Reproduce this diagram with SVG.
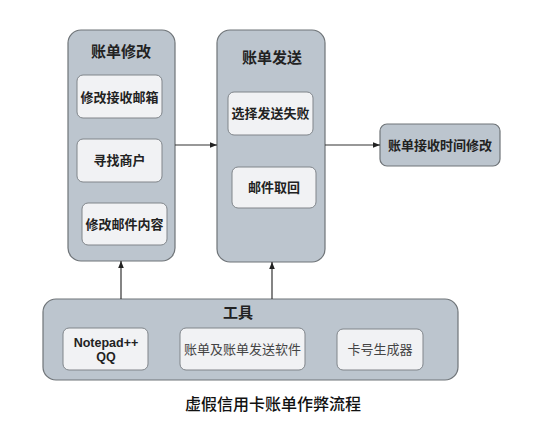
<svg xmlns="http://www.w3.org/2000/svg" width="550" height="427" viewBox="0 0 550 427">
<defs>
<marker id="ah" viewBox="0 0 10 10" refX="10" refY="5" markerWidth="7" markerHeight="7" markerUnits="userSpaceOnUse" orient="auto">
<path d="M0,1 L10,5 L0,9 z" fill="#222"/>
</marker>
<style>
.cont{fill:#bcc5ce;stroke:#6f7478;stroke-width:1.2}
.box{fill:#f1f2f4;stroke:#80858a;stroke-width:1}
.t{font-family:"Liberation Serif","Noto Sans CJK SC",serif;fill:#222;text-anchor:middle;dominant-baseline:central}
.title{font-size:15px;font-weight:bold}
.lbl{font-size:13px;font-weight:bold}
.conn{stroke:#333;stroke-width:1.2;fill:none;marker-end:url(#ah)}
</style>
</defs>
<rect width="550" height="427" fill="#ffffff"/>
<g id="bill-modify">
<rect class="cont" x="68" y="30" width="107" height="231" rx="13"/>
<text class="t title" x="121" y="52">账单修改</text>
</g>
<g id="modify-email">
<rect class="box" x="77" y="75" width="85" height="43" rx="6"/>
<text class="t lbl" x="119.5" y="97">修改接收邮箱</text>
</g>
<g id="find-merchant">
<rect class="box" x="77" y="139" width="85" height="43" rx="6"/>
<text class="t lbl" x="119.5" y="160.5">寻找商户</text>
</g>
<g id="modify-content">
<rect class="box" x="82" y="203" width="85" height="42" rx="6"/>
<text class="t lbl" x="124.5" y="224">修改邮件内容</text>
</g>
<g id="bill-send">
<rect class="cont" x="217" y="30" width="108" height="232" rx="13"/>
<text class="t title" x="272" y="58">账单发送</text>
</g>
<g id="send-fail">
<rect class="box" x="228" y="92" width="85" height="43" rx="6"/>
<text class="t lbl" x="270.5" y="113.5">选择发送失败</text>
</g>
<g id="mail-recall">
<rect class="box" x="232" y="167" width="84" height="41" rx="6"/>
<text class="t lbl" x="274" y="187.5">邮件取回</text>
</g>
<g id="time-modify">
<rect class="cont" x="380" y="124" width="120" height="42" rx="7"/>
<text class="t lbl" x="440" y="145">账单接收时间修改</text>
</g>
<g id="tools">
<rect class="cont" x="43" y="299" width="415" height="81" rx="13"/>
<text class="t title" x="238" y="313">工具</text>
</g>
<g id="notepad">
<rect class="box" x="63" y="328" width="85" height="42" rx="6"/>
<text x="106" y="343" style="font-family:'Liberation Sans',Arial,sans-serif;font-size:12.5px;font-weight:bold;fill:#222;text-anchor:middle;dominant-baseline:central">Notepad++</text>
<text x="106" y="357" style="font-family:'Liberation Sans',Arial,sans-serif;font-size:12.5px;font-weight:bold;fill:#222;text-anchor:middle;dominant-baseline:central">QQ</text>
</g>
<g id="send-software">
<rect class="box" x="180" y="328" width="125" height="42" rx="6"/>
<text class="t lbl" x="242.5" y="349" style="font-weight:normal;fill:#444">账单及账单发送软件</text>
</g>
<g id="card-gen">
<rect class="box" x="337" y="329" width="86" height="41" rx="6"/>
<text class="t lbl" x="380" y="349.5" style="font-weight:normal;fill:#444">卡号生成器</text>
</g>
<g id="connectors">
<line class="conn" x1="175" y1="145" x2="217" y2="145"/>
<line class="conn" x1="325" y1="145" x2="380" y2="145"/>
<line class="conn" x1="121" y1="299" x2="121" y2="261"/>
<line class="conn" x1="272" y1="299" x2="272" y2="262"/>
</g>
<text x="273" y="403" style="font-family:'Noto Sans CJK SC',sans-serif;font-size:16px;font-weight:500;fill:#111;text-anchor:middle;dominant-baseline:central">虚假信用卡账单作弊流程</text>
</svg>
